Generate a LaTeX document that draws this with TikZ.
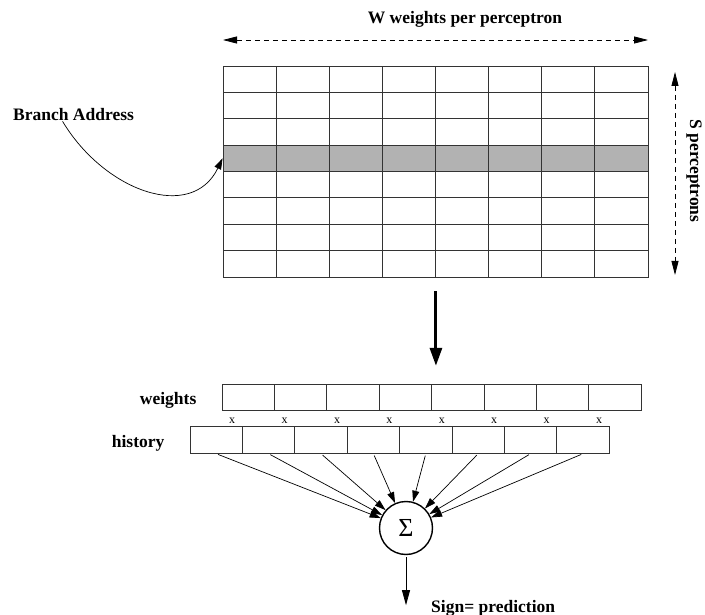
\documentclass[tikz,border=0pt]{standalone}
\usepackage{fontspec}
\setmainfont{Liberation Serif}
\usetikzlibrary{arrows.meta, positioning, calc}

\begin{document}
\begin{tikzpicture}[
  x=1pt, y=-1pt,
  cell/.style={draw=black!80, line width=0.9pt, minimum width=53.1pt, minimum height=26.4pt, inner sep=0pt},
  vcell/.style={cell, minimum width=52.4pt, minimum height=26.5pt},
  lbl/.style={font=\bfseries\fontsize{17.5}{20}\selectfont, inner sep=0pt},
  mult/.style={font=\fontsize{12}{14}\selectfont, inner sep=0pt},
  dim/.style={dashed, dash pattern=on 5pt off 4pt, line width=0.8pt,
    {Triangle[length=14pt,width=7pt]}-{Triangle[length=14pt,width=7pt]}},
  arr/.style={-{Triangle[length=11pt,width=7pt]}, line width=0.7pt},
  bigarr/.style={-{Triangle[length=18pt,width=12pt]}, line width=3pt},
]
\useasboundingbox (0,0) rectangle (705,615);

% ===== perceptron table =====
\foreach \r in {1,2,3,5,6,7,8}
  \foreach \c in {1,...,8}
    \node[cell] (t-\r-\c) at ({223+53.125*(\c-0.5)}, {66+26.375*(\r-0.5)}) {};
\foreach \c in {1,...,8}
  \node[cell, fill=black!30] (t-4-\c) at ({223+53.125*(\c-0.5)}, {66+26.375*3.5}) {};

% ===== dimensions =====
\coordinate (wl) at (223,40);
\coordinate (wr) at (648,40);
\draw[dim] (wl) -- (wr);
\node[lbl] (wlab) at (465,19) {W weights per perceptron};

\coordinate (st) at (675,72);
\coordinate (sb) at (675,275);
\draw[dim] (st) -- (sb);
\node[lbl, rotate=-90] (slab) at (694,171) {S perceptrons};

% ===== branch address =====
\node[lbl, anchor=west] (addr) at (13,115) {Branch Address};
\draw[arr] ([xshift=-11pt]addr.south) .. controls (105,192) and (192,222) .. (t-4-1.west);

% ===== selected perceptron =====
\foreach \c in {1,...,8} {
  \node[vcell] (w-\c) at ({222+52.4*(\c-0.5)}, 397.5) {};
  \node[vcell] (h-\c) at ({190+52.4*(\c-0.5)}, 440) {};
  \node[mult, yshift=-2pt] (x-\c) at ($(w-\c.south)!0.5!(h-\c.north)$) {x};
}
\draw[bigarr, shorten <=14pt, shorten >=18pt] (t-8-4.south east) -- (t-8-4.south east |- w-4.north);

\node[lbl, left=25pt of w-1, yshift=-3pt] (wt) {weights};
\node[lbl, left=25pt of h-1, yshift=-3pt] (hist) {history};

% ===== sum =====
\node[circle, draw, line width=1.4pt, minimum size=53pt, inner sep=0pt,
  font=\fontsize{26}{28}\selectfont] (sum) at (406,528) {Σ};
\foreach \c in {1,...,8}
  \draw[arr, shorten <=2pt] (h-\c.south) -- (sum);

\coordinate (out) at ($(sum.south)+(0,50)$);
\draw[-{Triangle[length=15pt,width=8pt]}, line width=0.8pt, shorten <=2pt] (sum.south) -- (out);
\node[lbl, right=25pt of out, yshift=-3pt] (sign) {Sign= prediction};

\end{tikzpicture}
\end{document}
